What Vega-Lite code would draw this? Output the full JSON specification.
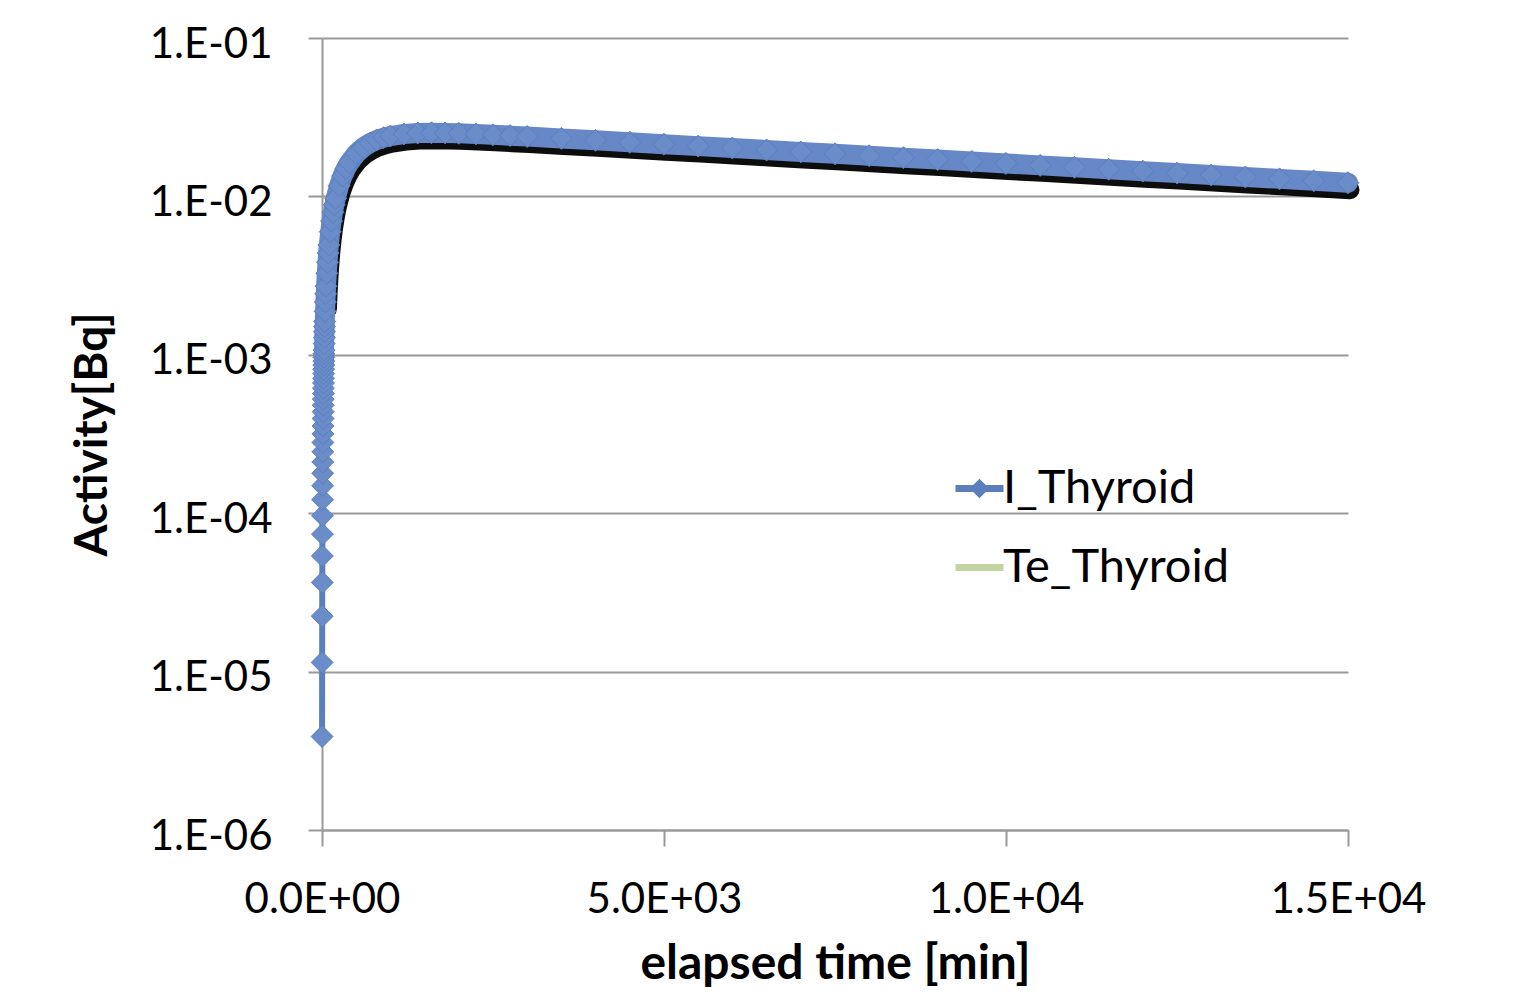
{
  "$schema": "https://vega.github.io/schema/vega-lite/v6.json",
  "width": 1026,
  "height": 792,
  "autosize": {"type": "none"},
  "padding": {"left": 322, "top": 38, "right": 177, "bottom": 167},
  "background": "white",
  "config": {"view": {"stroke": null}, "font": "Lato"},
  "datasets": {
    "thy": [
      {"t": 1, "A": 3.89e-6, "series": "I_Thyroid"},
      {"t": 2, "A": 1.142e-5, "series": "I_Thyroid"},
      {"t": 3, "A": 2.238e-5, "series": "I_Thyroid"},
      {"t": 4, "A": 3.655e-5, "series": "I_Thyroid"},
      {"t": 5, "A": 5.373e-5, "series": "I_Thyroid"},
      {"t": 6, "A": 7.375e-5, "series": "I_Thyroid"},
      {"t": 7, "A": 9.641e-5, "series": "I_Thyroid"},
      {"t": 8, "A": 1.2158e-4, "series": "I_Thyroid"},
      {"t": 9, "A": 1.4909e-4, "series": "I_Thyroid"},
      {"t": 10, "A": 1.7878e-4, "series": "I_Thyroid"},
      {"t": 11, "A": 2.1052e-4, "series": "I_Thyroid"},
      {"t": 12, "A": 2.4419e-4, "series": "I_Thyroid"},
      {"t": 13, "A": 2.7965e-4, "series": "I_Thyroid"},
      {"t": 14, "A": 3.1681e-4, "series": "I_Thyroid"},
      {"t": 15, "A": 3.5558e-4, "series": "I_Thyroid"},
      {"t": 16, "A": 3.9579e-4, "series": "I_Thyroid"},
      {"t": 17, "A": 4.3739e-4, "series": "I_Thyroid"},
      {"t": 18, "A": 4.8028e-4, "series": "I_Thyroid"},
      {"t": 19, "A": 5.2443e-4, "series": "I_Thyroid"},
      {"t": 20, "A": 5.6965e-4, "series": "I_Thyroid"},
      {"t": 21, "A": 6.1593e-4, "series": "I_Thyroid"},
      {"t": 22, "A": 6.6319e-4, "series": "I_Thyroid"},
      {"t": 23, "A": 7.1143e-4, "series": "I_Thyroid"},
      {"t": 24, "A": 7.6046e-4, "series": "I_Thyroid"},
      {"t": 25, "A": 8.1027e-4, "series": "I_Thyroid"},
      {"t": 26, "A": 8.6092e-4, "series": "I_Thyroid"},
      {"t": 27, "A": 9.1216e-4, "series": "I_Thyroid"},
      {"t": 28, "A": 9.6414e-4, "series": "I_Thyroid"},
      {"t": 29, "A": 1.0166e-3, "series": "I_Thyroid"},
      {"t": 30, "A": 1.0696e-3, "series": "I_Thyroid"},
      {"t": 32, "A": 1.1772e-3, "series": "I_Thyroid"},
      {"t": 34, "A": 1.2866e-3, "series": "I_Thyroid"},
      {"t": 36, "A": 1.3974e-3, "series": "I_Thyroid"},
      {"t": 38, "A": 1.5094e-3, "series": "I_Thyroid"},
      {"t": 40, "A": 1.6225e-3, "series": "I_Thyroid"},
      {"t": 45, "A": 1.88e-3, "series": "I_Thyroid"},
      {"t": 50, "A": 2.155e-3, "series": "I_Thyroid"},
      {"t": 55, "A": 2.43e-3, "series": "I_Thyroid"},
      {"t": 60, "A": 2.71e-3, "series": "I_Thyroid"},
      {"t": 70, "A": 3.275e-3, "series": "I_Thyroid"},
      {"t": 80, "A": 3.835e-3, "series": "I_Thyroid"},
      {"t": 90, "A": 4.389e-3, "series": "I_Thyroid"},
      {"t": 100, "A": 4.933e-3, "series": "I_Thyroid"},
      {"t": 120, "A": 5.985e-3, "series": "I_Thyroid"},
      {"t": 140, "A": 6.988e-3, "series": "I_Thyroid"},
      {"t": 160, "A": 7.943e-3, "series": "I_Thyroid"},
      {"t": 180, "A": 8.852e-3, "series": "I_Thyroid"},
      {"t": 200, "A": 9.717e-3, "series": "I_Thyroid"},
      {"t": 250, "A": 1.17e-2, "series": "I_Thyroid"},
      {"t": 300, "A": 1.345e-2, "series": "I_Thyroid"},
      {"t": 350, "A": 1.4994e-2, "series": "I_Thyroid"},
      {"t": 400, "A": 1.6355e-2, "series": "I_Thyroid"},
      {"t": 500, "A": 1.8607e-2, "series": "I_Thyroid"},
      {"t": 600, "A": 2.0347e-2, "series": "I_Thyroid"},
      {"t": 700, "A": 2.1683e-2, "series": "I_Thyroid"},
      {"t": 800, "A": 2.2703e-2, "series": "I_Thyroid"},
      {"t": 900, "A": 2.3474e-2, "series": "I_Thyroid"},
      {"t": 1000, "A": 2.4049e-2, "series": "I_Thyroid"},
      {"t": 1200, "A": 2.477e-2, "series": "I_Thyroid"},
      {"t": 1400, "A": 2.5106e-2, "series": "I_Thyroid"},
      {"t": 1600, "A": 2.5205e-2, "series": "I_Thyroid"},
      {"t": 1800, "A": 2.5158e-2, "series": "I_Thyroid"},
      {"t": 2000, "A": 2.5023e-2, "series": "I_Thyroid"},
      {"t": 2250, "A": 2.4781e-2, "series": "I_Thyroid"},
      {"t": 2500, "A": 2.4495e-2, "series": "I_Thyroid"},
      {"t": 2750, "A": 2.4186e-2, "series": "I_Thyroid"},
      {"t": 3000, "A": 2.3868e-2, "series": "I_Thyroid"},
      {"t": 3500, "A": 2.323e-2, "series": "I_Thyroid"},
      {"t": 4000, "A": 2.2589e-2, "series": "I_Thyroid"},
      {"t": 4500, "A": 2.1965e-2, "series": "I_Thyroid"},
      {"t": 5000, "A": 2.1358e-2, "series": "I_Thyroid"},
      {"t": 5500, "A": 2.0769e-2, "series": "I_Thyroid"},
      {"t": 6000, "A": 2.0195e-2, "series": "I_Thyroid"},
      {"t": 6500, "A": 1.9638e-2, "series": "I_Thyroid"},
      {"t": 7000, "A": 1.9095e-2, "series": "I_Thyroid"},
      {"t": 7500, "A": 1.8568e-2, "series": "I_Thyroid"},
      {"t": 8000, "A": 1.8056e-2, "series": "I_Thyroid"},
      {"t": 8500, "A": 1.7557e-2, "series": "I_Thyroid"},
      {"t": 9000, "A": 1.7072e-2, "series": "I_Thyroid"},
      {"t": 9500, "A": 1.6601e-2, "series": "I_Thyroid"},
      {"t": 10000, "A": 1.6142e-2, "series": "I_Thyroid"},
      {"t": 10500, "A": 1.5697e-2, "series": "I_Thyroid"},
      {"t": 11000, "A": 1.5263e-2, "series": "I_Thyroid"},
      {"t": 11500, "A": 1.4842e-2, "series": "I_Thyroid"},
      {"t": 12000, "A": 1.4432e-2, "series": "I_Thyroid"},
      {"t": 12500, "A": 1.4034e-2, "series": "I_Thyroid"},
      {"t": 13000, "A": 1.3646e-2, "series": "I_Thyroid"},
      {"t": 13500, "A": 1.3269e-2, "series": "I_Thyroid"},
      {"t": 14000, "A": 1.2903e-2, "series": "I_Thyroid"},
      {"t": 14500, "A": 1.2547e-2, "series": "I_Thyroid"},
      {"t": 15000, "A": 1.22e-2, "series": "I_Thyroid"}
    ]
  },
  "data": {"name": "thy"},
  "resolve": {"scale": {"x": "independent", "y": "independent"}},
  "layer": [
    {
      "transform": [{"filter": "datum.A >= 0.002"}],
      "mark": {"type": "line", "color": "#000000", "strokeWidth": 19, "strokeCap": "round", "strokeJoin": "round", "opacity": 0.95},
      "encoding": {
        "x": {"field": "t", "type": "quantitative", "scale": {"domain": [0, 15000], "range": [2, 1028]}, "axis": null},
        "y": {"field": "A", "type": "quantitative", "scale": {"type": "log", "domain": [1e-6, 0.1], "range": [799, 7]}, "axis": null}
      }
    },
    {
      "encoding": {
        "x": {
          "field": "t", "type": "quantitative",
          "scale": {"domain": [0, 15000], "nice": false},
          "axis": {
            "values": [0, 5000, 10000, 15000],
            "labelExpr": "datum.value == 0 ? '0.0E+00' : datum.value == 5000 ? '5.0E+03' : datum.value == 10000 ? '1.0E+04' : '1.5E+04'",
            "grid": false,
            "domainColor": "#999999", "domainWidth": 2,
            "tickColor": "#999999", "tickWidth": 2, "tickSize": 16,
            "labelFont": "Lato", "labelFontSize": 42, "labelColor": "#000000", "labelPadding": 33,
            "labelFlush": false, "labelOverlap": false, "labelBound": false,
            "title": "elapsed time [min]", "titleFont": "Lato", "titleFontSize": 48, "titleFontWeight": "bold", "titleColor": "#000000",
            "titleX": 513, "titleY": 148, "titleBaseline": "alphabetic", "titleAnchor": "middle", "titleAlign": "center"
          }
        },
        "y": {
          "field": "A", "type": "quantitative",
          "scale": {"type": "log", "domain": [1e-6, 0.1], "nice": false},
          "axis": {
            "values": [1e-6, 1e-5, 1e-4, 1e-3, 1e-2, 1e-1],
            "labelExpr": "'1.E-0' + round(-log(datum.value) / LN10)",
            "grid": true, "gridColor": "#999999", "gridWidth": 2,
            "domainColor": "#999999", "domainWidth": 2,
            "tickColor": "#999999", "tickWidth": 2, "tickSize": 14,
            "labelFont": "Lato", "labelFontSize": 42, "labelColor": "#000000", "labelPadding": 36, "labelOffset": 6,
            "labelOverlap": false, "labelBound": false, "labelFlush": false,
            "title": "Activity[Bq]", "titleFont": "Lato", "titleFontSize": 46, "titleFontWeight": "bold", "titleColor": "#000000",
            "titleX": -216, "titleY": 396, "titleBaseline": "alphabetic", "titleAngle": -90, "titleAlign": "center"
          }
        }
      },
      "layer": [
        {"mark": {"type": "line", "color": "#5B7FBC", "strokeWidth": 6}, "encoding": {}},
        {
          "transform": [{"filter": "datum.A >= 0.0009"}],
          "mark": {"type": "line", "color": "#6688C6", "strokeWidth": 20, "strokeCap": "round", "strokeJoin": "round"},
          "encoding": {}
        },
        {
          "mark": {"type": "point", "shape": "diamond", "filled": true, "size": 480, "fill": "#6A8DCA", "stroke": "#5B7FBC", "strokeWidth": 1, "opacity": 1},
          "encoding": {}
        },
        {
          "mark": {"type": "point", "filled": true, "opacity": 0},
          "encoding": {
            "fill": {
              "field": "series", "type": "nominal",
              "scale": {"domain": ["I_Thyroid", "Te_Thyroid"], "range": ["#7398D3", "transparent"]},
              "legend": {
                "title": null, "orient": "none", "legendX": 630, "legendY": 423, "padding": 0,
                "labelFont": "Lato", "labelFontSize": 47, "labelColor": "#000000", "labelOffset": -4, "labelLimit": 0,
                "symbolSize": 2304, "symbolStrokeWidth": 7, "symbolOpacity": 1, "rowPadding": 28
              }
            },
            "stroke": {
              "field": "series", "type": "nominal",
              "scale": {"domain": ["I_Thyroid", "Te_Thyroid"], "range": ["#5B7FBC", "#C4D4A0"]},
              "legend": {
                "title": null, "orient": "none", "legendX": 630, "legendY": 423, "padding": 0,
                "labelFont": "Lato", "labelFontSize": 47, "labelColor": "#000000", "labelOffset": -4, "labelLimit": 0,
                "symbolSize": 2304, "symbolStrokeWidth": 7, "symbolOpacity": 1, "rowPadding": 28
              }
            },
            "shape": {
              "field": "series", "type": "nominal",
              "scale": {"domain": ["I_Thyroid", "Te_Thyroid"], "range": ["M-1,0H1M0,-0.2L0.2,0L0,0.2L-0.2,0Z", "M-1,0H1"]},
              "legend": {
                "title": null, "orient": "none", "legendX": 630, "legendY": 423, "padding": 0,
                "labelFont": "Lato", "labelFontSize": 47, "labelColor": "#000000", "labelOffset": -4, "labelLimit": 0,
                "symbolSize": 2304, "symbolStrokeWidth": 7, "symbolOpacity": 1, "rowPadding": 28
              }
            }
          }
        }
      ]
    }
  ]
}
